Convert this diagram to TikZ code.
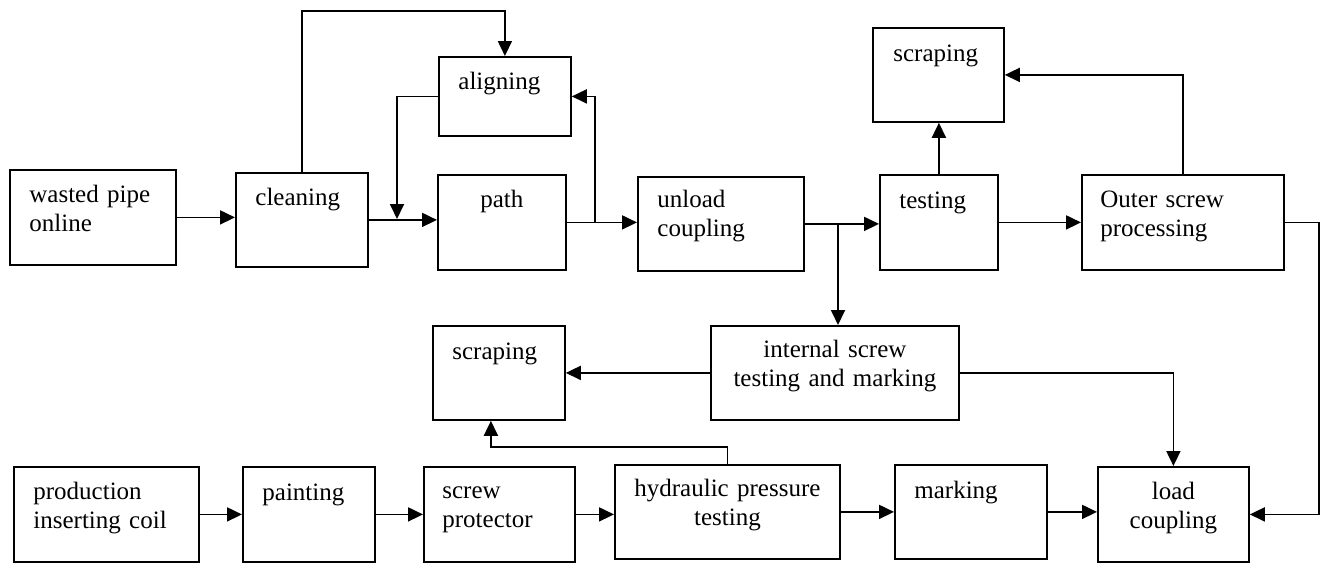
\documentclass[tikz,border=0pt]{standalone}
\usepackage{fontspec}
\setmainfont{Liberation Serif}
\usetikzlibrary{arrows.meta}

\begin{document}
\begin{tikzpicture}[x=0.5pt,y=-0.5pt,
  box/.style={draw,line width=0.9pt,anchor=north west,inner sep=0pt},
  txt/.style={font=\fontsize{12.5}{14.75}\selectfont,inner sep=0pt,text width=110pt,align=left,anchor=base west},
  ctxt/.style={font=\fontsize{12.5}{14.75}\selectfont,inner sep=0pt,align=center,anchor=base},
  arr/.style={line width=0.9pt,-{Triangle[length=7.5pt,width=7pt]}}]
\useasboundingbox (0,0) rectangle (1326,563);
% upper row
\node[box,minimum width=83pt,minimum height=47.5pt] (pipe) at (9,169) {};
\node[box,minimum width=66pt,minimum height=47pt] (clean) at (235,172) {};
\node[box,minimum width=66pt,minimum height=39.5pt] (align) at (438,56) {};
\node[box,minimum width=64pt,minimum height=47.5pt] (path) at (437,174) {};
\node[box,minimum width=83pt,minimum height=47pt] (unload) at (637,176) {};
\node[box,minimum width=59pt,minimum height=47.5pt] (test) at (879,174) {};
\node[box,minimum width=65.5pt,minimum height=47pt] (scrapeA) at (872,27) {};
\node[box,minimum width=101pt,minimum height=47.5pt] (outer) at (1081,174) {};
% lower rows
\node[box,minimum width=124pt,minimum height=47pt] (internal) at (710,325) {};
\node[box,minimum width=66pt,minimum height=47pt] (scrapeB) at (432,325) {};
\node[box,minimum width=92.5pt,minimum height=47.5pt] (prod) at (13,466) {};
\node[box,minimum width=66pt,minimum height=47.5pt] (paint) at (242,466) {};
\node[box,minimum width=75.5pt,minimum height=47.5pt] (protect) at (423,466) {};
\node[box,minimum width=112.5pt,minimum height=47pt] (hydro) at (614,464) {};
\node[box,minimum width=76pt,minimum height=47pt] (mark) at (894,464) {};
\node[box,minimum width=75.5pt,minimum height=47.5pt] (load) at (1097,466) {};
% labels
\node[txt] (pipe-t) at ([shift={(20,33)}]pipe.north west) {wasted pipe\\online};
\node[txt] (clean-t) at ([shift={(20,33)}]clean.north west) {cleaning};
\node[txt] (align-t) at ([shift={(20,33)}]align.north west) {aligning};
\node[ctxt,text width=64pt] (path-t) at ([shift={(0,33)}]path.north) {path};
\node[txt] (unload-t) at ([shift={(20,31)}]unload.north west) {unload\\coupling};
\node[txt] (test-t) at ([shift={(20,34)}]test.north west) {testing};
\node[txt] (scrapeA-t) at ([shift={(21,34)}]scrapeA.north west) {scraping};
\node[txt] (outer-t) at ([shift={(19,33)}]outer.north west) {Outer screw\\processing};
\node[ctxt,text width=124pt] (internal-t) at ([shift={(0,32)}]internal.north) {internal screw\\testing and marking};
\node[txt] (scrapeB-t) at ([shift={(20,34)}]scrapeB.north west) {scraping};
\node[txt] (prod-t) at ([shift={(20,33)}]prod.north west) {production\\inserting coil};
\node[txt] (paint-t) at ([shift={(20,34)}]paint.north west) {painting};
\node[txt] (protect-t) at ([shift={(19,32)}]protect.north west) {screw\\protector};
\node[ctxt,text width=112.5pt] (hydro-t) at ([shift={(0,32)}]hydro.north) {hydraulic pressure\\testing};
\node[txt] (mark-t) at ([shift={(20,34)}]mark.north west) {marking};
\node[ctxt,text width=75.5pt] (load-t) at ([shift={(0,33)}]load.north) {load\\coupling};
% joints
\coordinate (top) at (0,11);
\coordinate (j1) at (397,219);
\coordinate (j2) at (595,222);
\coordinate (j3) at (838,223);
\coordinate (r1) at (1319,220);
% connectors
\draw[arr] (pipe.east) -- (pipe.east -| clean.west);
\draw[arr] (clean.east) -- (clean.east -| path.west);
\draw[arr] (clean.north) -- (clean.north |- top) -| (align.north);
\draw[arr] (align.west) -| (j1);
\draw[arr] (path.east) -- (path.east -| unload.west);
\draw[arr] (j2) |- (align.east);
\draw[arr] (unload.east) -- (unload.east -| test.west);
\draw[arr] (j3) -- (j3 |- internal.north);
\draw[arr] (test.north) -- (test.north |- scrapeA.south);
\draw[arr] (test.east) -- (test.east -| outer.west);
\draw[arr] (outer.north) |- (scrapeA.east);
\draw[arr] (outer.east) -- (outer.east -| r1) |- (load.east);
\draw[arr] (internal.west) -- (scrapeB.east);
\draw[arr] (internal.east) -| (load.north);
\draw[arr] (hydro.north) -- ++(0,-17) -| ([xshift=-4pt]scrapeB.south);
\draw[arr] (prod.east) -- (prod.east -| paint.west);
\draw[arr] (paint.east) -- (paint.east -| protect.west);
\draw[arr] (protect.east) -- (protect.east -| hydro.west);
\draw[arr] (hydro.east) -- (hydro.east -| mark.west);
\draw[arr] (mark.east) -- (mark.east -| load.west);
\end{tikzpicture}
\end{document}
